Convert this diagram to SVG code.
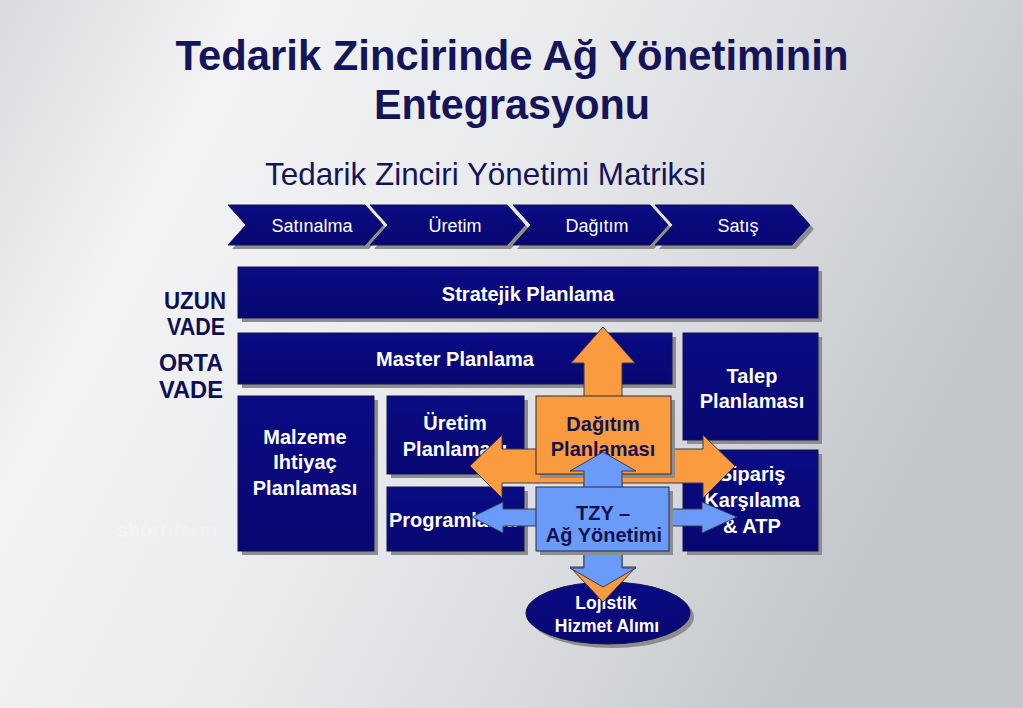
<svg xmlns="http://www.w3.org/2000/svg" width="1023" height="708" viewBox="0 0 1023 708">
<defs>
<linearGradient id="bg" x1="0" y1="0" x2="1" y2="0.35">
<stop offset="0" stop-color="#d9dadd"/>
<stop offset="0.22" stop-color="#f3f3f5"/>
<stop offset="0.5" stop-color="#eaebed"/>
<stop offset="0.78" stop-color="#d7d9dc"/>
<stop offset="1" stop-color="#c3c6ca"/>
</linearGradient>
<linearGradient id="nv" x1="0" y1="0" x2="0" y2="1">
<stop offset="0" stop-color="#0b0b84"/>
<stop offset="1" stop-color="#070772"/>
</linearGradient>
<style>
.nav{fill:url(#nv);stroke:#15154a;stroke-width:1}
.sh{fill:#8c8d90}
.t{font-family:"Liberation Sans",Arial,sans-serif;font-weight:bold;font-size:20px;text-anchor:middle}
.w{fill:#ffffff}
.d{fill:#121250}
.cv{font-family:"Liberation Sans",Arial,sans-serif;font-size:18px;fill:#ffffff;text-anchor:middle}
.lab{font-family:"Liberation Sans",Arial,sans-serif;font-weight:bold;font-size:24px;fill:#0e0e52;text-anchor:end}
.arr{stroke:#3a3a50;stroke-width:1;stroke-linejoin:miter}
</style>
</defs>
<rect width="1023" height="708" fill="url(#bg)"/>

<g id="title" font-family="'Liberation Sans',Arial,sans-serif" font-weight="bold" font-size="42" fill="#141458" text-anchor="middle">
<text x="512" y="70" textLength="673" lengthAdjust="spacingAndGlyphs">Tedarik Zincirinde Ağ Yönetiminin</text>
<text x="512" y="119" textLength="276" lengthAdjust="spacingAndGlyphs">Entegrasyonu</text>
</g>
<g id="subtitle">
<text x="485.5" y="185" font-family="'Liberation Sans',Arial,sans-serif" font-size="32" fill="#141458" text-anchor="middle" textLength="441" lengthAdjust="spacingAndGlyphs">Tedarik Zinciri Yönetimi Matriksi</text>
</g>

<text x="117" y="537" font-family="'Liberation Sans',Arial,sans-serif" font-weight="bold" font-size="20" fill="#ffffff" fill-opacity="0.25">short-term</text>

<g id="chevron-satinalma">
<polygon class="sh" points="232,209 369,209 387,229 369,249 232,249 250,229"/>
<polygon class="nav" points="228,205 365,205 383,225 365,245 228,245 246,225"/>
<text class="cv" x="312" y="232">Satınalma</text>
</g>
<g id="chevron-uretim">
<polygon class="sh" points="374,209 511,209 529,229 511,249 374,249 392,229"/>
<polygon class="nav" points="370,205 507,205 525,225 507,245 370,245 388,225"/>
<text class="cv" x="455" y="232">Üretim</text>
</g>
<g id="chevron-dagitim">
<polygon class="sh" points="517,209 654,209 672,229 654,249 517,249 535,229"/>
<polygon class="nav" points="513,205 650,205 668,225 650,245 513,245 531,225"/>
<text class="cv" x="597" y="232">Dağıtım</text>
</g>
<g id="chevron-satis">
<polygon class="sh" points="659,209 796,209 814,229 796,249 659,249 677,229"/>
<polygon class="nav" points="655,205 792,205 810,225 792,245 655,245 673,225"/>
<text class="cv" x="738" y="232">Satış</text>
</g>

<g id="label-uzun">
<text class="lab" x="226" y="309" textLength="62" lengthAdjust="spacingAndGlyphs">UZUN</text>
<text class="lab" x="225" y="335" textLength="58" lengthAdjust="spacingAndGlyphs">VADE</text>
</g>
<g id="label-orta">
<text class="lab" x="223" y="371" textLength="64" lengthAdjust="spacingAndGlyphs">ORTA</text>
<text class="lab" x="223" y="398" textLength="64" lengthAdjust="spacingAndGlyphs">VADE</text>
</g>

<g id="stratejik">
<rect class="sh" x="242" y="271" width="580" height="51"/>
<rect class="nav" x="238" y="267" width="580" height="51"/>
<text class="t w" x="528" y="301">Stratejik Planlama</text>
</g>
<g id="master">
<rect class="sh" x="242" y="337" width="434" height="51"/>
<rect class="nav" x="238" y="333" width="434" height="51"/>
<text class="t w" x="455" y="366">Master Planlama</text>
</g>
<g id="talep">
<rect class="sh" x="687" y="337" width="135" height="107"/>
<rect class="nav" x="683" y="333" width="135" height="107"/>
<text class="t w" x="752" y="383">Talep</text>
<text class="t w" x="752" y="408">Planlaması</text>
</g>
<g id="malzeme">
<rect class="sh" x="242" y="400" width="136" height="155"/>
<rect class="nav" x="238" y="396" width="136" height="155"/>
<text class="t w" x="305" y="444">Malzeme</text>
<text class="t w" x="305" y="469">Ihtiyaç</text>
<text class="t w" x="305" y="495">Planlaması</text>
</g>
<g id="uretim-planlamasi">
<rect class="sh" x="391" y="400" width="137" height="78"/>
<rect class="nav" x="387" y="396" width="137" height="78"/>
<text class="t w" x="455" y="430">Üretim</text>
<text class="t w" x="455" y="456">Planlaması</text>
</g>
<g id="programlama">
<rect class="sh" x="391" y="491" width="137" height="64"/>
<rect class="nav" x="387" y="487" width="137" height="64"/>
<text class="t w" x="389" y="527" style="text-anchor:start">Programlama</text>
</g>
<g id="siparis">
<rect class="sh" x="687" y="454" width="135" height="101"/>
<rect class="nav" x="683" y="450" width="135" height="101"/>
<text class="t w" x="752" y="481">Sipariş</text>
<text class="t w" x="752" y="507">Karşılama</text>
<text class="t w" x="752" y="533">&amp; ATP</text>
</g>
<g id="lojistik">
<ellipse class="sh" cx="612" cy="617" rx="82" ry="31"/>
<ellipse class="nav" cx="608" cy="613" rx="82" ry="31"/>
<text class="t w" x="606" y="609" style="font-size:17.5px">Lojistik</text>
<text class="t w" x="607" y="632" style="font-size:17.5px">Hizmet Alımı</text>
</g>

<g id="connectors">
<path id="orange-cross" class="arr" fill="#fb9b40" d="M603,327 L635,363 L622,363 L622,449 L703,449 L703,435 L735,466 L703,498 L703,483 L622,483 L622,567 L636,567 L603,602 L570,567 L584,567 L584,483 L502,483 L502,498 L470,466 L502,435 L502,449 L584,449 L584,363 L571,363 Z"/>
</g>

<g id="dagitim-planlamasi">
<rect class="sh" x="540" y="400" width="135" height="78"/>
<rect x="536" y="396" width="135" height="78" fill="#fb9b40" stroke="#2a2a40" stroke-width="1"/>
<text class="t d" x="603" y="431">Dağıtım</text>
<text class="t d" x="603" y="456">Planlaması</text>
</g>

<g id="connectors-blue">
<path id="blue-cross" class="arr" fill="#6a9bf8" d="M603,452 L636,471 L622,471 L622,509 L702,509 L702,502 L737,517 L702,533 L702,526 L622,526 L622,568 L636,568 L603,587 L570,568 L584,568 L584,526 L503,526 L503,533 L472,517 L503,502 L503,509 L584,509 L584,471 L570,471 Z"/>
</g>

<g id="tzy">
<rect class="sh" x="540" y="491" width="133" height="64"/>
<rect x="536" y="487" width="133" height="64" fill="#6a9bf8" stroke="#2a2a40" stroke-width="1"/>
<text class="t d" x="603" y="520">TZY –</text>
<text class="t d" x="604" y="542">Ağ Yönetimi</text>
</g>
</svg>
